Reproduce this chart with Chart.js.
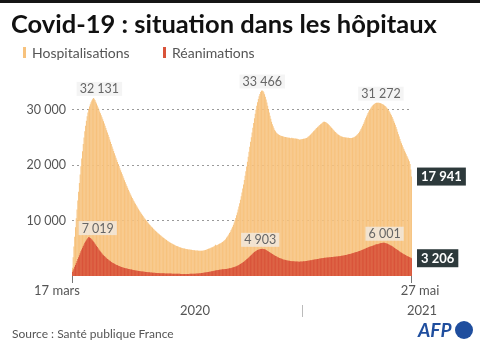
<!DOCTYPE html>
<html>
<head>
<meta charset="utf-8">
<script src="https://cdn.jsdelivr.net/npm/chart.js@4.4.0/dist/chart.umd.min.js"></script>
<style>
html, body { margin: 0; padding: 0; background: #fff; }
</style>
</head>
<body>
<canvas id="myChart" width="480" height="346"></canvas>
<script>
// daily stock of patients, 17 mars 2020 -> 27 mai 2021
var hospMar20 = [1500, 3400, 5300, 7100, 8800, 10400, 12000, 13600, 15200, 16800, 18300, 19800, 21200, 22500, 23800];
var hospApr20 = [25000, 26100, 27100, 28000, 28800, 29500, 30100, 30600, 31000, 31350, 31650, 31900, 32131, 32000, 31750, 31450, 31100, 30750, 30400, 30050, 29700, 29350, 29000, 28650, 28300, 27900, 27500, 27100, 26700, 26300];
var hospMay20 = [25900, 25480, 25060, 24640, 24220, 23800, 23380, 22970, 22560, 22150, 21750, 21350, 20960, 20580, 20200, 19830, 19460, 19090, 18720, 18350, 17990, 17630, 17270, 16920, 16570, 16230, 15900, 15570, 15250, 14940, 14640];
var hospJun20 = [14350, 14070, 13800, 13540, 13280, 13030, 12780, 12540, 12300, 12060, 11830, 11610, 11390, 11180, 10970, 10770, 10570, 10380, 10190, 10000, 9820, 9650, 9480, 9310, 9150, 8990, 8840, 8690, 8540, 8400];
var hospJul20 = [8260, 8120, 7990, 7860, 7730, 7600, 7480, 7360, 7240, 7120, 7010, 6900, 6790, 6680, 6580, 6480, 6380, 6280, 6190, 6100, 6010, 5930, 5850, 5770, 5690, 5620, 5550, 5480, 5420, 5360, 5300];
var hospAug20 = [5240, 5190, 5140, 5090, 5050, 5010, 4970, 4940, 4910, 4880, 4850, 4820, 4800, 4780, 4760, 4740, 4720, 4700, 4680, 4660, 4640, 4620, 4600, 4590, 4580, 4570, 4560, 4550, 4550, 4560, 4570];
var hospSep20 = [4590, 4620, 4660, 4700, 4750, 4800, 4850, 4900, 4960, 5020, 5080, 5140, 5200, 5270, 5340, 5480, 5650, 5520, 5580, 5650, 5720, 5800, 5880, 5960, 6040, 6140, 6250, 6370, 6500, 6640];
var hospOct20 = [6900, 7080, 7280, 7500, 7740, 8000, 8280, 8580, 8900, 9250, 9630, 10040, 10480, 10950, 11450, 11980, 12540, 13130, 13750, 14400, 15080, 15790, 16530, 17300, 18100, 18920, 19760, 20620, 21500, 22400, 23310];
var hospNov20 = [24200, 25050, 25900, 26750, 27600, 28450, 29250, 30000, 30700, 31350, 31930, 32430, 32850, 33180, 33400, 33466, 33380, 33150, 32800, 32350, 31850, 31300, 30700, 30100, 29500, 28900, 28350, 27850, 27400, 27000];
var hospDec20 = [26650, 26350, 26100, 25900, 25750, 25620, 25510, 25420, 25350, 25290, 25240, 25200, 25180, 25120, 25090, 25060, 25030, 25000, 24980, 24960, 24940, 24870, 24900, 24930, 24860, 24840, 24820, 24800, 24790, 24780, 24780];
var hospJan21 = [24700, 24650, 24600, 24620, 24650, 24680, 24710, 24740, 24770, 24800, 24830, 24900, 24990, 25100, 25220, 25350, 25490, 25640, 25800, 25950, 26100, 26250, 26400, 26550, 26700, 26840, 26980, 27110, 27240, 27370, 27490];
var hospFeb21 = [27610, 27720, 27820, 27850, 27800, 27720, 27620, 27500, 27370, 27230, 27080, 26920, 26760, 26600, 26440, 26280, 26120, 25970, 25830, 25700, 25580, 25470, 25380, 25300, 25230, 25170, 25120, 25080];
var hospMar21 = [25050, 25020, 25000, 24980, 24960, 24940, 24920, 24910, 24900, 24900, 24910, 24930, 24970, 25030, 25110, 25210, 25330, 25470, 25630, 25810, 26020, 26260, 26520, 26800, 27100, 27420, 27760, 28100, 28440, 28770, 29090];
var hospApr21 = [29390, 29670, 29930, 30170, 30390, 30590, 30760, 30900, 31020, 31120, 31190, 31240, 31270, 31260, 31272, 31230, 31180, 31120, 31050, 30970, 30880, 30780, 30660, 30520, 30360, 30180, 29980, 29760, 29520, 29260];
var hospMay21 = [28980, 28680, 28360, 28020, 27660, 27280, 26880, 26460, 26020, 25580, 25150, 24730, 24330, 23950, 23580, 23230, 22900, 22580, 22270, 21970, 21670, 21360, 21040, 20700, 20200, 19200, 17941];

var reaMar20 = [700, 1000, 1300, 1650, 2000, 2350, 2700, 3050, 3400, 3750, 4100, 4450, 4800, 5100, 5400];
var reaApr20 = [5700, 5980, 6240, 6470, 6680, 6870, 7019, 6960, 6860, 6730, 6580, 6410, 6230, 6040, 5840, 5630, 5420, 5210, 5000, 4800, 4600, 4410, 4230, 4060, 3900, 3750, 3600, 3460, 3330, 3200];
var reaMay20 = [3080, 2960, 2850, 2740, 2640, 2540, 2450, 2360, 2280, 2200, 2120, 2050, 1980, 1920, 1860, 1800, 1740, 1690, 1640, 1590, 1540, 1500, 1460, 1420, 1380, 1340, 1310, 1280, 1250, 1220, 1190];
var reaJun20 = [1160, 1130, 1100, 1070, 1040, 1010, 985, 960, 935, 910, 890, 870, 850, 830, 810, 790, 770, 750, 735, 720, 705, 690, 675, 660, 645, 630, 615, 600, 590, 580];
var reaJul20 = [570, 560, 550, 540, 530, 520, 510, 500, 495, 490, 485, 480, 475, 470, 465, 460, 455, 450, 445, 440, 435, 430, 425, 420, 415, 410, 405, 400, 395, 390, 388];
var reaAug20 = [386, 384, 382, 380, 379, 378, 377, 376, 376, 376, 377, 378, 380, 382, 385, 388, 392, 397, 403, 410, 418, 427, 437, 448, 460, 473, 487, 502, 518, 535, 553];
var reaSep20 = [572, 592, 613, 635, 658, 682, 707, 733, 760, 788, 817, 846, 875, 904, 933, 961, 989, 1016, 1042, 1067, 1091, 1114, 1136, 1157, 1177, 1196, 1214, 1231, 1247, 1262];
var reaOct20 = [1280, 1300, 1325, 1350, 1380, 1410, 1445, 1480, 1520, 1560, 1605, 1655, 1710, 1770, 1835, 1905, 1980, 2060, 2145, 2235, 2330, 2430, 2535, 2645, 2760, 2880, 3000, 3125, 3250, 3380, 3510];
var reaNov20 = [3650, 3790, 3930, 4070, 4200, 4320, 4430, 4530, 4610, 4680, 4740, 4790, 4830, 4860, 4885, 4903, 4890, 4860, 4820, 4760, 4690, 4610, 4530, 4440, 4350, 4260, 4170, 4080, 3990, 3900];
var reaDec20 = [3810, 3720, 3630, 3550, 3470, 3400, 3330, 3260, 3200, 3140, 3090, 3040, 2990, 2950, 2910, 2870, 2840, 2810, 2780, 2760, 2740, 2720, 2700, 2680, 2665, 2650, 2640, 2630, 2620, 2610, 2600];
var reaJan21 = [2595, 2590, 2590, 2595, 2605, 2620, 2635, 2650, 2665, 2680, 2700, 2720, 2740, 2760, 2785, 2810, 2835, 2860, 2885, 2910, 2935, 2960, 2985, 3010, 3035, 3060, 3085, 3110, 3135, 3160, 3185];
var reaFeb21 = [3210, 3230, 3250, 3270, 3290, 3305, 3320, 3335, 3350, 3365, 3380, 3395, 3410, 3425, 3440, 3455, 3470, 3485, 3500, 3515, 3530, 3550, 3570, 3590, 3615, 3640, 3665, 3690];
var reaMar21 = [3720, 3750, 3780, 3810, 3845, 3880, 3915, 3950, 3990, 4030, 4070, 4110, 4150, 4190, 4230, 4270, 4310, 4350, 4400, 4450, 4500, 4555, 4610, 4670, 4730, 4790, 4850, 4910, 4970, 5030, 5090];
var reaApr21 = [5150, 5210, 5270, 5320, 5370, 5420, 5470, 5520, 5570, 5620, 5665, 5710, 5750, 5790, 5830, 5870, 5910, 5945, 5975, 5995, 6001, 5990, 5960, 5920, 5870, 5810, 5745, 5675, 5600, 5520];
var reaMay21 = [5440, 5350, 5260, 5165, 5070, 4975, 4880, 4780, 4680, 4580, 4480, 4385, 4290, 4200, 4110, 4025, 3940, 3860, 3780, 3705, 3630, 3560, 3490, 3420, 3350, 3280, 3206];

var yTicks = [10000, 20000, 30000];
var firstLabel = "17 mars";
var lastLabel = "27 mai";
var years = ["2020", "2021"];

var hosp = [].concat(hospMar20, hospApr20, hospMay20, hospJun20, hospJul20, hospAug20, hospSep20,
	hospOct20, hospNov20, hospDec20, hospJan21, hospFeb21, hospMar21, hospApr21, hospMay21);
var rea = [].concat(reaMar20, reaApr20, reaMay20, reaJun20, reaJul20, reaAug20, reaSep20,
	reaOct20, reaNov20, reaDec20, reaJan21, reaFeb21, reaMar21, reaApr21, reaMay21);

var days = [];
var start = Date.UTC(2020, 2, 17);
for (var i = 0; i < hosp.length; i++) {
	days.push(new Date(start + i * 86400000).toISOString().slice(0, 10));
}
var newYear = days.indexOf("2021-01-01");

var FONT = 'Lato, "Open Sans", sans-serif';
var HOSP_COL = '#f7c27d';
var REA_COL = '#d9533a';

function fmt(v) {
	return String(v).replace(/\B(?=(\d{3})+(?!\d))/g, ' ');
}

// peaks labelled on the chart (dx = nudge in px)
var callouts = [
	{ data: hosp, value: 32131, dx: 6 },
	{ data: hosp, value: 33466, dx: 0 },
	{ data: hosp, value: 31272, dx: 2 },
	{ data: rea, value: 7019, dx: 9 },
	{ data: rea, value: 4903, dx: -2 },
	{ data: rea, value: 6001, dx: 1 }
];

var decor = {
	id: 'decor',
	afterDatasetsDraw: function(chart) {
		var ctx = chart.ctx, x = chart.scales.x, y = chart.scales.y;
		ctx.save();
		ctx.font = '12.5px ' + FONT;
		ctx.textAlign = 'center';
		ctx.textBaseline = 'middle';
		callouts.forEach(function(c) {
			var idx = c.data.indexOf(c.value);
			var px = x.getPixelForValue(idx) + c.dx;
			var py = y.getPixelForValue(c.value) - 9;
			var t = fmt(c.value);
			var w = ctx.measureText(t).width + 6;
			ctx.fillStyle = 'rgba(240,240,240,0.7)';
			ctx.fillRect(px - w / 2, py - 7, w, 14);
			ctx.fillStyle = '#666';
			ctx.fillText(t, px, py + 0.5);
		});
		// last values
		var last = hosp.length - 1;
		ctx.font = 'bold 13px ' + FONT;
		ctx.textAlign = 'left';
		[hosp[last], rea[last]].forEach(function(v) {
			var py = y.getPixelForValue(v);
			var t = fmt(v);
			var w = ctx.measureText(t).width + 8;
			ctx.fillStyle = '#2d393b';
			ctx.fillRect(417, py - 9, w, 18);
			ctx.fillStyle = '#fff';
			ctx.fillText(t, 421, py + 0.5);
		});
		ctx.restore();
	},
	afterDraw: function(chart) {
		var ctx = chart.ctx, x = chart.scales.x, area = chart.chartArea;
		ctx.save();
		ctx.fillStyle = '#151515';
		ctx.fillRect(0, 0, 480, 3);

		ctx.fillStyle = '#111';
		ctx.font = 'bold 25.5px ' + FONT;
		ctx.textBaseline = 'alphabetic';
		ctx.fillText('Covid-19 : situation dans les hôpitaux', 11, 33);

		ctx.font = '14px ' + FONT;
		ctx.textBaseline = 'middle';
		ctx.fillStyle = HOSP_COL;
		ctx.fillRect(23, 47, 3, 11);
		ctx.fillStyle = '#555';
		ctx.fillText('Hospitalisations', 32, 53);
		ctx.fillStyle = REA_COL;
		ctx.fillRect(163, 47, 3, 11);
		ctx.fillStyle = '#555';
		ctx.fillText('Réanimations', 172, 53);

		// x axis ends
		ctx.strokeStyle = '#777';
		ctx.lineWidth = 1;
		var x0 = Math.round(x.getPixelForValue(0) - 0.4) + 0.5;
		var x1 = Math.round(x.getPixelForValue(hosp.length - 1) + 0.4) - 0.5;
		ctx.beginPath();
		ctx.moveTo(x0, area.bottom); ctx.lineTo(x0, area.bottom + 7);
		ctx.moveTo(x1, area.bottom); ctx.lineTo(x1, area.bottom + 7);
		ctx.stroke();
		var xy = Math.round(x.getPixelForValue(newYear)) + 4.5;
		ctx.strokeStyle = '#bbb';
		ctx.beginPath();
		ctx.moveTo(xy, 305); ctx.lineTo(xy, 317);
		ctx.stroke();

		ctx.font = '13px ' + FONT;
		ctx.fillStyle = '#555';
		ctx.textAlign = 'center';
		ctx.fillText(firstLabel, 57, 291);
		ctx.fillText(lastLabel, 420, 291);
		ctx.fillText(years[0], 195, 311);
		ctx.fillText(years[1], 422, 311);

		ctx.textAlign = 'left';
		ctx.font = '12px ' + FONT;
		ctx.fillText('Source : Santé publique France', 12, 334);

		// AFP logo
		ctx.fillStyle = '#1f4e9e';
		ctx.font = 'italic bold 19px ' + FONT;
		ctx.textBaseline = 'alphabetic';
		ctx.fillText('AFP', 418, 337);
		ctx.beginPath();
		ctx.arc(464, 330, 9, 0, Math.PI * 2);
		ctx.fill();
		ctx.restore();
	}
};

var chart = new Chart(document.getElementById('myChart').getContext('2d'), {
	type: 'bar',
	data: {
		labels: days,
		datasets: [{
			label: 'Réanimations',
			data: rea,
			backgroundColor: REA_COL,
			order: 0,
			grouped: false,
			barPercentage: 1.3,
			categoryPercentage: 1,
			borderWidth: 0
		}, {
			label: 'Hospitalisations',
			data: hosp,
			backgroundColor: HOSP_COL,
			order: 1,
			grouped: false,
			barPercentage: 1.3,
			categoryPercentage: 1,
			borderWidth: 0
		}]
	},
	options: {
		responsive: false,
		animation: false,
		devicePixelRatio: 1,
		layout: { padding: { top: 82, right: 68, bottom: 70, left: 0 } },
		plugins: { legend: { display: false }, tooltip: { enabled: false } },
		scales: {
			x: { display: false },
			y: {
				min: 0,
				max: 35000,
				afterFit: function(s) { s.width = 72; },
				afterBuildTicks: function(s) {
					s.ticks = yTicks.map(function(v) { return { value: v }; });
				},
				ticks: {
					padding: 6,
					color: '#555',
					font: { family: FONT, size: 12.5 },
					callback: function(v) { return fmt(v); }
				},
				grid: { color: '#9a9a9a', drawTicks: false, lineWidth: 1 },
				border: { display: false, dash: [2, 3] }
			}
		}
	},
	plugins: [decor]
});
</script>
</body>
</html>
